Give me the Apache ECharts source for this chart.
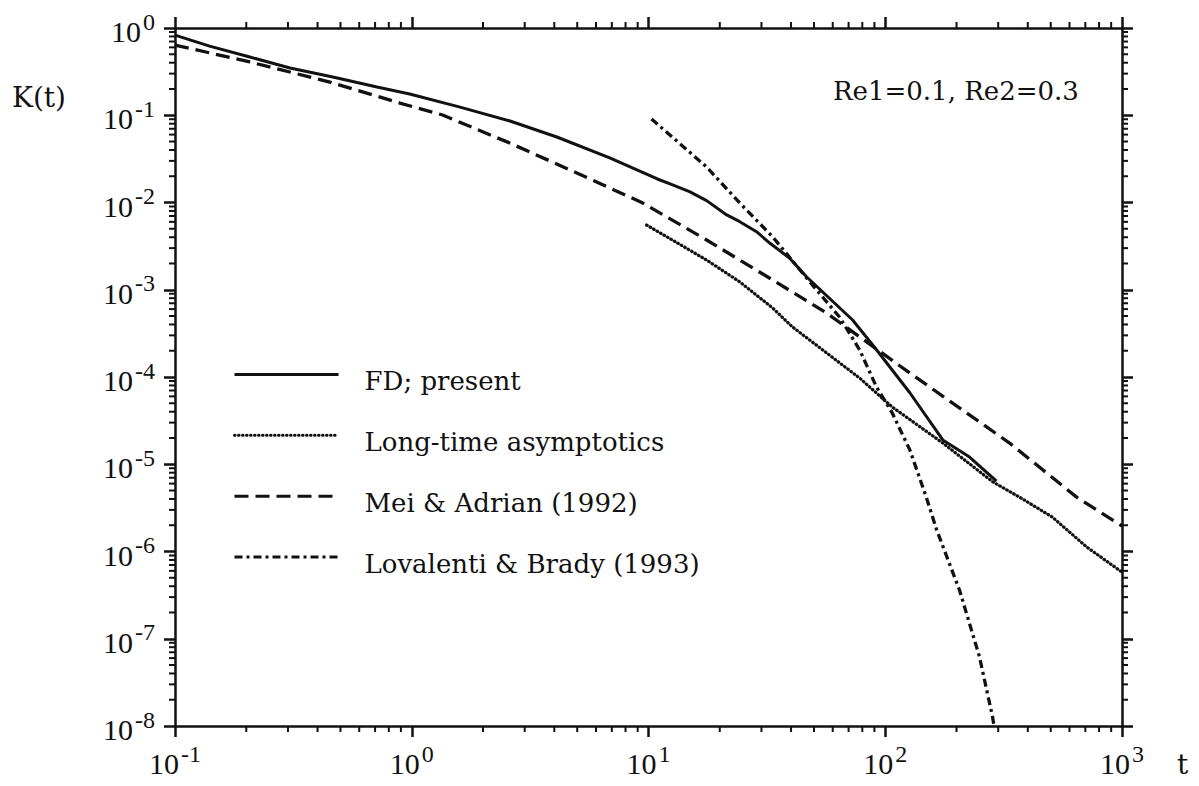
<!DOCTYPE html>
<html><head><meta charset="utf-8">
<script src="https://cdn.jsdelivr.net/npm/echarts@6/dist/echarts.min.js"></script>
<style>html,body{margin:0;padding:0;background:#fff;} #main{width:1199px;height:786px;}</style>
</head><body><div id="main"></div>
<script>
// ---- data ----
const fdT = [0.1, 0.14, 0.207, 0.306, 0.464, 0.713, 0.98, 1.6, 2.6, 4.1, 6.86, 10.9, 12.65, 14.9, 17.6, 21.4, 24.3, 28.6, 32.5, 39.4, 46.6, 72.8, 92, 127, 175, 227, 295];
const fdK = [0.83, 0.62, 0.465, 0.348, 0.274, 0.211, 0.175, 0.124, 0.086, 0.0563, 0.0324, 0.0186, 0.0159, 0.0133, 0.0105, 0.0072, 0.00603, 0.00463, 0.00343, 0.00231, 0.0014, 0.00045, 0.000204, 6.6e-5, 1.9e-5, 1.21e-5, 6.4e-6];

const asymT = [9.82, 12.6, 17.6, 24.3, 33.4, 40.6, 78, 107, 175, 284, 369, 508, 708, 1000];
const asymK = [5.52e-3, 3.72e-3, 2.19e-3, 1.23e-3, 6.2e-4, 3.74e-4, 9.7e-5, 4.53e-5, 1.75e-5, 6.3e-6, 4.2e-6, 2.48e-6, 1.13e-6, 5.8e-7];

const meiT = [0.1, 0.207, 0.451, 0.891, 1.35, 2.59, 4.98, 9.46, 17.6, 33.5, 56.5, 127, 335, 643, 1000];
const meiK = [0.638, 0.408, 0.240, 0.138, 0.1006, 0.0481, 0.0218, 0.00987, 0.00372, 0.00129, 5.42e-4, 1.11e-4, 1.75e-5, 4.2e-6, 1.96e-6];

const lbT = [10.3, 17.6, 24.3, 33.5, 49.3, 64.1, 78, 91.8, 107, 127, 149, 165, 206, 250, 284, 288];
const lbK = [0.0906, 0.0255, 0.00987, 0.00402, 0.00113, 4.87e-4, 2.04e-4, 7.7e-5, 3.87e-5, 1.46e-5, 4.2e-6, 1.76e-6, 3.6e-7, 6.2e-8, 1.27e-8, 1.0e-8];

const seriesNames = ['FD; present', 'Long-time asymptotics', 'Mei & Adrian (1992)', 'Lovalenti & Brady (1993)'];
const xTickExps = {'-1': '-1', '0': '0', '1': '1', '2': '2', '3': '3'};
const yTickExps = {'0': '0', '-1': '-1', '-2': '-2', '-3': '-3', '-4': '-4', '-5': '-5', '-6': '-6', '-7': '-7', '-8': '-8'};
const xMin = 0.1, xMax = 1000, yMin = 1e-8, yMax = 1;
const annotation = 'Re1=0.1, Re2=0.3';
const yName = 'K(t)', xName = 't';

// ---- minor ticks (2..9 per decade) ----
const minorItems = [];
for (let e = -1; e <= 2; e++) for (let m = 2; m <= 9; m++) minorItems.push([m * Math.pow(10, e), yMin, 0]);
for (let e = -8; e <= -1; e++) for (let m = 2; m <= 9; m++) minorItems.push([xMin, m * Math.pow(10, e), 1]);

const INK = '#111';
const pair = (ts, ks) => ts.map((t, i) => [t, ks[i]]);

function lab(map) {
  return function (v) {
    const e = String(Math.round(Math.log10(v)));
    return '{base|10}{sup|' + (map[e] !== undefined ? map[e] : e) + '}';
  };
}
const richLab = {
  base: {fontFamily: 'Liberation Serif', fontSize: 30, lineHeight: 30, padding: [7, 0, 0, 0], color: INK},
  sup: {fontFamily: 'Liberation Serif', fontSize: 24, lineHeight: 24, padding: [0, 0, 13, 2], color: INK}
};
const axisCommon = {
  type: 'log', logBase: 10,
  axisLine: {show: true, onZero: false, lineStyle: {color: INK, width: 2.5}},
  axisTick: {show: true, inside: false, length: 11, lineStyle: {color: INK, width: 2.5}},
  splitLine: {show: false}, minorTick: {show: false}, minorSplitLine: {show: false}
};

const chart = echarts.init(document.getElementById('main'), null, {renderer: 'svg'});
chart.setOption({
  animation: false,
  backgroundColor: '#fff',
  grid: {left: 175, top: 28, width: 947, height: 698, containLabel: false},
  xAxis: [
    Object.assign({}, axisCommon, {position: 'bottom', min: xMin, max: xMax, splitNumber: 4,
      axisLabel: {show: true, margin: 19, fontFamily: 'Liberation Serif', fontSize: 30, color: INK, formatter: lab(xTickExps), rich: richLab}}),
    Object.assign({}, axisCommon, {position: 'top', min: xMin, max: xMax, splitNumber: 4, axisLabel: {show: false}})
  ],
  yAxis: [
    Object.assign({}, axisCommon, {position: 'left', min: yMin, max: yMax, splitNumber: 8,
      axisLabel: {show: true, margin: 20, fontFamily: 'Liberation Serif', fontSize: 30, color: INK, formatter: lab(yTickExps), rich: richLab}}),
    Object.assign({}, axisCommon, {position: 'right', min: yMin, max: yMax, splitNumber: 8, axisLabel: {show: false}})
  ],
  legend: {
    data: seriesNames,
    orient: 'vertical', left: 228, top: 359,
    itemWidth: 104, itemHeight: 26, itemGap: 31,
    itemStyle: {opacity: 0, borderWidth: 0},
    lineStyle: {width: 3},
    formatter: function (name) { return '{n|' + name + '}'; },
    textStyle: {fontFamily: 'DejaVu Serif', fontSize: 26, color: INK, padding: [0, 0, 0, 21],
      rich: {n: {fontFamily: 'DejaVu Serif', fontSize: 26, color: INK, padding: [13, 0, 0, 0]}}},
    selectedMode: false
  },
  graphic: [
    {type: 'text', x: 12, y: 97, style: {text: yName, font: '28px "DejaVu Serif"', fill: INK, align: 'left', verticalAlign: 'middle'}},
    {type: 'text', x: 1177, y: 764, style: {text: xName, font: '28px "DejaVu Serif"', fill: INK, align: 'left', verticalAlign: 'middle'}},
    {type: 'text', x: 833, y: 91, style: {text: annotation, font: '26px "DejaVu Serif"', fill: INK, align: 'left', verticalAlign: 'middle'}}
  ],
  series: [
    {name: seriesNames[0], type: 'line', data: pair(fdT, fdK), symbol: 'none', showSymbol: false,
      lineStyle: {color: INK, width: 3, type: 'solid'}, itemStyle: {color: INK, opacity: 0}, z: 5},
    {name: seriesNames[1], type: 'line', data: pair(asymT, asymK), symbol: 'none', showSymbol: false,
      lineStyle: {color: INK, width: 3.2, type: [0.6, 3.4], cap: 'round'}, itemStyle: {color: INK, opacity: 0}, z: 4},
    {name: seriesNames[2], type: 'line', data: pair(meiT, meiK), symbol: 'none', showSymbol: false,
      lineStyle: {color: INK, width: 3.3, type: [14, 7]}, itemStyle: {color: INK, opacity: 0}, z: 4},
    {name: seriesNames[3], type: 'line', data: pair(lbT, lbK), symbol: 'none', showSymbol: false,
      lineStyle: {color: INK, width: 3.3, type: [8, 4, 3, 4]}, itemStyle: {color: INK, opacity: 0}, z: 4},
    {type: 'custom', name: 'minorTicks', silent: true, clip: false, z: 10,
      data: minorItems, encode: {x: 0, y: 1},
      renderItem: function (params, api) {
        const kind = api.value(2), L = 6, st = {stroke: INK, lineWidth: 2};
        if (kind === 0) {
          const v = api.value(0);
          const b = api.coord([v, yMin]), t = api.coord([v, yMax]);
          return {type: 'group', children: [
            {type: 'line', shape: {x1: b[0], y1: b[1], x2: b[0], y2: b[1] + L}, style: st},
            {type: 'line', shape: {x1: t[0], y1: t[1], x2: t[0], y2: t[1] - L}, style: st}]};
        }
        const v = api.value(1);
        const l = api.coord([xMin, v]), r = api.coord([xMax, v]);
        return {type: 'group', children: [
          {type: 'line', shape: {x1: l[0], y1: l[1], x2: l[0] - L, y2: l[1]}, style: st},
          {type: 'line', shape: {x1: r[0], y1: r[1], x2: r[0] + L, y2: r[1]}, style: st}]};
      }}
  ]
});
</script>
</body></html>
